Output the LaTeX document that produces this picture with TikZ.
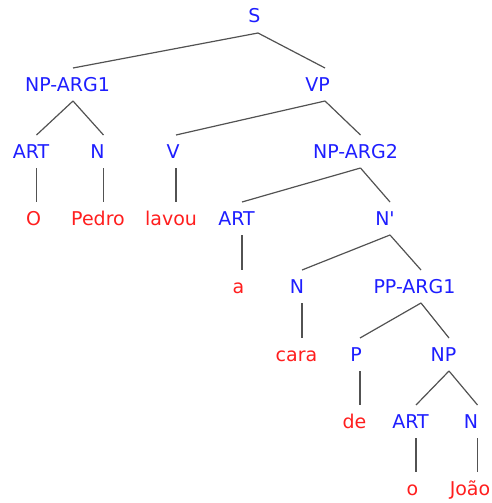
\documentclass[tikz,border=0pt]{standalone}
\usepackage{fontspec}
\newfontfamily\treefont{DejaVu Sans}
\definecolor{catblue}{RGB}{30,30,255}
\definecolor{wordred}{RGB}{255,30,30}
\begin{document}
\begin{tikzpicture}[x=1pt,y=-1pt,
  cat/.style={anchor=base,inner sep=0pt,text=catblue,font=\treefont\fontsize{19}{22}\selectfont},
  word/.style={anchor=base,inner sep=0pt,text=wordred,font=\treefont\fontsize{19}{22}\selectfont},
  edge/.style={draw=black!68,line width=1.2pt}]
\useasboundingbox (0,0) rectangle (491,503);
% nodes
\node[cat] (S) at (254.5,23) {S};
\node[cat] (np1) at (67.5,91) {NP-ARG1};
\node[cat] (vp) at (317.5,91) {VP};
\node[cat] (art1) at (31,158) {ART};
\node[cat] (n1) at (97.5,158) {N};
\node[cat] (v) at (173,158) {V};
\node[cat] (np2) at (355.5,158) {NP-ARG2};
\node[word] (o1) at (33.5,225) {O};
\node[word] (pedro) at (98,225) {Pedro};
\node[word] (lavou) at (171,225) {lavou};
\node[cat] (art2) at (236.5,225) {ART};
\node[cat] (nbar) at (385,225) {N'};
\node[word] (a) at (238.5,293) {a};
\node[cat] (n2) at (297,293) {N};
\node[cat] (pp) at (414.5,293) {PP-ARG1};
\node[word] (cara) at (296.5,361) {cara};
\node[cat] (p) at (356,361) {P};
\node[cat] (np3) at (443.5,361) {NP};
\node[word] (de) at (354.5,428) {de};
\node[cat] (art3) at (410.5,428) {ART};
\node[cat] (n3) at (471,428) {N};
\node[word] (o2) at (412.5,495) {o};
\node[word] (joao) at (470,495) {João};
% junction points (b = below a node, t = above a node)
\coordinate (S-b) at (258,33);
\coordinate (np1-t) at (73,68);   \coordinate (np1-b) at (73,101);
\coordinate (vp-t) at (325,68);   \coordinate (vp-b) at (325,101);
\coordinate (art1-t) at (36.5,135); \coordinate (art1-b) at (36.5,168);
\coordinate (n1-t) at (103.5,135);  \coordinate (n1-b) at (103.5,168);
\coordinate (v-t) at (176,135);     \coordinate (v-b) at (176,168);
\coordinate (np2-t) at (360.5,135); \coordinate (np2-b) at (360.5,168);
\coordinate (o1-t) at (36.5,202);
\coordinate (pedro-t) at (103.5,202);
\coordinate (lavou-t) at (176,202);
\coordinate (art2-t) at (242,202);  \coordinate (art2-b) at (242,235);
\coordinate (nbar-t) at (390,202);  \coordinate (nbar-b) at (390,235);
\coordinate (a-t) at (242,270);
\coordinate (n2-t) at (302,270);    \coordinate (n2-b) at (302,303);
\coordinate (pp-t) at (421,270);    \coordinate (pp-b) at (421,303);
\coordinate (cara-t) at (302,338);
\coordinate (p-t) at (360,338);     \coordinate (p-b) at (360,371);
\coordinate (np3-t) at (449,338);   \coordinate (np3-b) at (449,371);
\coordinate (de-t) at (360,405);
\coordinate (art3-t) at (416,405);  \coordinate (art3-b) at (416,438);
\coordinate (n3-t) at (477.5,405);  \coordinate (n3-b) at (477.5,438);
\coordinate (o2-t) at (416,472);
\coordinate (joao-t) at (477.5,472);
% edges
\draw[edge] (S-b) -- (np1-t);
\draw[edge] (S-b) -- (vp-t);
\draw[edge] (np1-b) -- (art1-t);
\draw[edge] (np1-b) -- (n1-t);
\draw[edge] (vp-b) -- (v-t);
\draw[edge] (vp-b) -- (np2-t);
\draw[edge] (art1-b) -- (o1-t);
\draw[edge] (n1-b) -- (pedro-t);
\draw[edge] (v-b) -- (lavou-t);
\draw[edge] (np2-b) -- (art2-t);
\draw[edge] (np2-b) -- (nbar-t);
\draw[edge] (art2-b) -- (a-t);
\draw[edge] (nbar-b) -- (n2-t);
\draw[edge] (nbar-b) -- (pp-t);
\draw[edge] (n2-b) -- (cara-t);
\draw[edge] (pp-b) -- (p-t);
\draw[edge] (pp-b) -- (np3-t);
\draw[edge] (p-b) -- (de-t);
\draw[edge] (np3-b) -- (art3-t);
\draw[edge] (np3-b) -- (n3-t);
\draw[edge] (art3-b) -- (o2-t);
\draw[edge] (n3-b) -- (joao-t);
\end{tikzpicture}
\end{document}
